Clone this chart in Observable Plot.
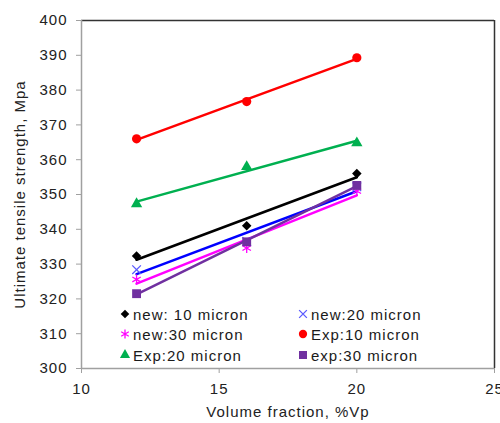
<!DOCTYPE html>
<html>
<head>
<meta charset="utf-8">
<script src="https://cdn.jsdelivr.net/npm/d3@7"></script>
<script src="https://cdn.jsdelivr.net/npm/@observablehq/plot@0.6"></script>
<style>
  body { margin: 0; background: #fff; }
  #wrap { position: relative; width: 500px; height: 423px; overflow: hidden; }
  .lg { position: absolute; display: flex; align-items: center; height: 18px;
        font-family: "Liberation Sans", Arial, sans-serif; font-size: 15px; letter-spacing: 1px; color: #1a1a1a; white-space: nowrap; }
  .lg svg { margin-right: 2px; }
</style>
</head>
<body>
<div id="wrap"></div>
<script>
// ---- data ----
const volumeFraction = [12, 16, 20];
const seriesNames = ["new: 10 micron", "new:20 micron", "new:30 micron", "Exp:10 micron", "Exp:20 micron", "exp:30 micron"];
const new10 = [332.3, 341.0, 356.0];
const new20 = [328.4, 336.5, 352.2];
const new30 = [325.6, 334.6, 351.0];
const exp10 = [366.0, 376.7, 389.3];
const exp20 = [347.3, 358.0, 364.8];
const exp30 = [321.5, 336.4, 352.6];
const yTicks = [300, 310, 320, 330, 340, 350, 360, 370, 380, 390, 400];
const xTicks = [10, 15, 20, 25];
const xLabel = "Volume fraction, %Vp";
const yLabel = "Ultimate tensile strength, Mpa";

// ---- styles ----
const seriesValues = [new10, new20, new30, exp10, exp20, exp30];
const lineColors = ["#000000", "#0000ff", "#ff00ff", "#ff0000", "#00b050", "#7030a0"];
const markColors = ["#000000", "#5a5aff", "#ff00ff", "#ff0000", "#00b050", "#7030a0"];
const markSymbols = ["square", "times", "asterisk", "circle", "triangle", "square"];
const markFilled = [true, false, false, true, true, true];
const markR = [3.8, 4.0, 4.6, 4.6, 4.2, 5.0];
const markRotate = [45, 0, 0, 0, 0, 0];

const rows = seriesNames.flatMap((s, i) => volumeFraction.map((x, j) => ({ series: s, x, y: seriesValues[i][j] })));

const font = "Liberation Sans, Arial, sans-serif";

const marks = [
  Plot.ruleY([400], { stroke: "#333", strokeWidth: 1.5 }),
  Plot.ruleX([25], { stroke: "#333", strokeWidth: 1.5 }),
  Plot.ruleX([10], { stroke: "#a0a0a0", strokeWidth: 1.5 }),
  Plot.ruleY([300], { stroke: "#a0a0a0", strokeWidth: 1.5 }),
  Plot.axisY({ ticks: yTicks, tickSize: 5, tickPadding: 9, stroke: "#a0a0a0", fill: "#222", tickFormat: d => String(d),
    label: yLabel, labelAnchor: "center", labelArrow: "none", labelOffset: 67 }),
  Plot.axisX({ ticks: xTicks, tickSize: 5, tickPadding: 10, stroke: "#a0a0a0", fill: "#222", tickFormat: d => String(d),
    label: xLabel, labelAnchor: "center", labelArrow: "none", labelOffset: 48 }),
  Plot.linearRegressionY(rows, { x: "x", y: "y", stroke: "series", ci: 0, strokeWidth: 2.5 })
];
seriesNames.forEach((s, i) => {
  const d = rows.filter(r => r.series === s);
  const opts = { x: "x", y: "y", symbol: () => markSymbols[i], r: markR[i], rotate: markRotate[i] };
  if (markFilled[i]) { opts.fill = markColors[i]; opts.stroke = "none"; }
  else { opts.stroke = markColors[i]; opts.fill = "none"; opts.strokeWidth = 1.3; }
  marks.push(Plot.dot(d, opts));
});

const chart = Plot.plot({
  width: 500, height: 423,
  marginLeft: 81, marginRight: 6, marginTop: 20, marginBottom: 55,
  style: { fontFamily: font, fontSize: "15px", letterSpacing: "1px", background: "#fff", color: "#222" },
  x: { domain: [10, 25] },
  y: { domain: [300, 400] },
  color: { domain: seriesNames, range: lineColors },
  symbol: { domain: markSymbols, range: markSymbols },
  marks
});
const wrap = document.getElementById("wrap");
wrap.appendChild(chart);

// ---- legend (HTML overlay) ----
const legendCols = [119, 297];
const legendRows = [305, 325, 346];
const symMap = { square: d3.symbolSquare, times: d3.symbolTimes, asterisk: d3.symbolAsterisk, circle: d3.symbolCircle, triangle: d3.symbolTriangle };
seriesNames.forEach((s, i) => {
  const div = document.createElement("div");
  div.className = "lg";
  div.style.left = legendCols[i % 2] + "px";
  div.style.top = legendRows[Math.floor(i / 2)] + "px";
  const r = markR[i] * 0.9;
  const path = d3.symbol(symMap[markSymbols[i]], Math.PI * r * r)();
  const paint = markFilled[i] ? `fill="${markColors[i]}"` : `fill="none" stroke="${markColors[i]}" stroke-width="1.3"`;
  div.innerHTML = `<svg width="12" height="12" viewBox="-6 -6 12 12"><path d="${path}" ${paint} transform="rotate(${markRotate[i]})"/></svg><span>${s}</span>`;
  wrap.appendChild(div);
});
</script>
</body>
</html>
